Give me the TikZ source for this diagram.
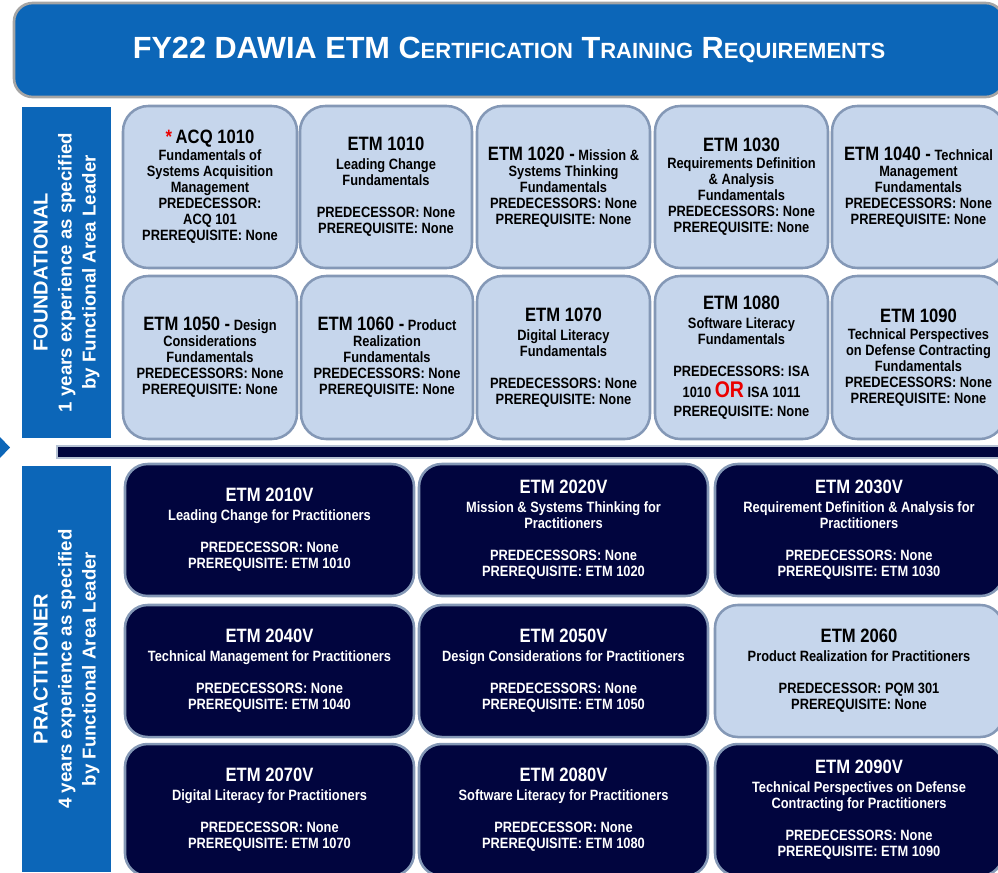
\documentclass[tikz,border=0pt]{standalone}
\usepackage{fontspec}
\setmainfont{Liberation Sans}[FakeStretch=0.86]
\newfontfamily\sidefont{Liberation Sans}

\definecolor{hdrblue}{RGB}{12,102,184}
\definecolor{lightbox}{RGB}{198,214,236}
\definecolor{boxedge}{RGB}{132,152,182}
\definecolor{navybox}{RGB}{1,5,62}
\definecolor{hdredge}{RGB}{165,165,165}
\definecolor{orred}{RGB}{235,0,0}

\tikzset{
  fnd/.style={fill=lightbox, draw=boxedge, line width=1.9pt, rounded corners=19pt},
  prc/.style={fill=navybox, draw=boxedge, line width=1.9pt, rounded corners=17pt},
  ftxt/.style={align=center, text=black, font=\bfseries\fontsize{11.2}{12}\selectfont},
  ptxt/.style={ftxt, text=white},
  sidetxt/.style={rotate=90, align=center, text=white, font=\sidefont\bfseries\fontsize{14}{18}\selectfont},
}
\newcommand{\crs}[1]{{\fontsize{14.5}{16}\selectfont #1}}
\newcommand{\capword}[2]{{\fontsize{23}{27}\selectfont #1}{\fontsize{16.5}{20}\selectfont #2}}

\begin{document}
\begin{tikzpicture}[x=0.75pt, y=-0.75pt]
        \useasboundingbox (0,0) rectangle (998,872);
        \clip (0,0) rectangle (998,872);

        % title bar
        \filldraw [fill=hdrblue, draw=hdredge, line width=2pt, rounded corners=14pt] (14,3) rectangle node[text=white, font=\sidefont\bfseries\fontsize{23}{27}\selectfont] (title) {FY22 DAWIA ETM \capword{C}{ERTIFICATION} \capword{T}{RAINING} \capword{R}{EQUIREMENTS}} (1004,97);

        % side bars
        \fill [hdrblue] (22,107) rectangle node[sidetxt] (fndlabel) {{\fontsize{15}{20}\selectfont FOUNDATIONAL}\\ 1 years experience as specified\\ by Functional Area Leader} (111,438);
        \fill [hdrblue] (22,466) rectangle node[sidetxt] (prclabel) {{\fontsize{15}{20}\selectfont PRACTITIONER}\\ 4 years experience as specified\\ by Functional Area Leader} (111,872);
        \fill [hdrblue] (0,437) -- (10,447.5) -- (0,458) -- cycle;
        \filldraw [fill=navybox, draw=boxedge!60, line width=0.8pt] (57,446) rectangle (1004,458);

        % foundational
        \filldraw [fnd] (123,106) rectangle node[ftxt] (acq1010) {{\color{orred}\crs{*}} \crs{ACQ 1010}\\[1pt] Fundamentals of\\ Systems Acquisition\\ Management\\ PREDECESSOR:\\ ACQ 101\\ PREREQUISITE: None} (297,268);
        \filldraw [fnd] (300,106) rectangle node[ftxt] (etm1010) {\crs{ETM 1010}\\[2pt] Leading Change\\ Fundamentals\\[12pt] PREDECESSOR: None\\ PREREQUISITE: None} (472,268);
        \filldraw [fnd] (477,106) rectangle node[ftxt] (etm1020) {\crs{ETM 1020 -} Mission \&\\ Systems Thinking\\ Fundamentals\\ PREDECESSORS: None\\ PREREQUISITE: None} (650,268);
        \filldraw [fnd] (655,106) rectangle node[ftxt] (etm1030) {\crs{ETM 1030}\\[1pt] Requirements Definition\\ \& Analysis\\ Fundamentals\\ PREDECESSORS: None\\ PREREQUISITE: None} (828,268);
        \filldraw [fnd] (832,106) rectangle node[ftxt] (etm1040) {\crs{ETM 1040 -} Technical\\ Management\\ Fundamentals\\ PREDECESSORS: None\\ PREREQUISITE: None} (1005,268);

        \filldraw [fnd] (123,276) rectangle node[ftxt] (etm1050) {\crs{ETM 1050 -} Design\\ Considerations\\ Fundamentals\\ PREDECESSORS: None\\ PREREQUISITE: None} (297,439);
        \filldraw [fnd] (301,276) rectangle node[ftxt] (etm1060) {\crs{ETM 1060 -} Product\\ Realization\\ Fundamentals\\ PREDECESSORS: None\\ PREREQUISITE: None} (473,439);
        \filldraw [fnd] (477,276) rectangle node[ftxt] (etm1070) {\crs{ETM 1070}\\[2pt] Digital Literacy\\ Fundamentals\\[12pt] PREDECESSORS: None\\ PREREQUISITE: None} (650,439);
        \filldraw [fnd] (655,276) rectangle node[ftxt] (etm1080) {\crs{ETM 1080}\\[2pt] Software Literacy\\ Fundamentals\\[12pt] PREDECESSORS: ISA\\[4pt] 1010 {\color{orred}\fontsize{17}{17}\selectfont OR} ISA 1011\\[2pt] PREREQUISITE: None} (828,439);
        \filldraw [fnd] (832,276) rectangle node[ftxt] (etm1090) {\crs{ETM 1090}\\[1pt] Technical Perspectives\\ on Defense Contracting\\ Fundamentals\\ PREDECESSORS: None\\ PREREQUISITE: None} (1005,439);

        % practitioner
        \filldraw [prc] (125,464) rectangle node[ptxt] (etm2010) {\crs{ETM 2010V}\\[2pt] Leading Change for Practitioners\\[12pt] PREDECESSOR: None\\ PREREQUISITE: ETM 1010} (414,596);
        \filldraw [prc] (419,464) rectangle node[ptxt] (etm2020) {\crs{ETM 2020V}\\[2pt] Mission \& Systems Thinking for\\ Practitioners\\[12pt] PREDECESSORS: None\\ PREREQUISITE: ETM 1020} (708,596);
        \filldraw [prc] (715,464) rectangle node[ptxt] (etm2030) {\crs{ETM 2030V}\\[2pt] Requirement Definition \& Analysis for\\ Practitioners\\[12pt] PREDECESSORS: None\\ PREREQUISITE: ETM 1030} (1003,596);

        \filldraw [prc] (125,605) rectangle node[ptxt] (etm2040) {\crs{ETM 2040V}\\[2pt] Technical Management for Practitioners\\[12pt] PREDECESSORS: None\\ PREREQUISITE: ETM 1040} (414,737);
        \filldraw [prc] (419,605) rectangle node[ptxt] (etm2050) {\crs{ETM 2050V}\\[2pt] Design Considerations for Practitioners\\[12pt] PREDECESSORS: None\\ PREREQUISITE: ETM 1050} (708,737);
        \filldraw [fnd, rounded corners=17pt] (715,605) rectangle node[ftxt] (etm2060) {\crs{ETM 2060}\\[2pt] Product Realization for Practitioners\\[12pt] PREDECESSOR: PQM 301\\ PREREQUISITE: None} (1003,737);

        \filldraw [prc] (125,744) rectangle node[ptxt] (etm2070) {\crs{ETM 2070V}\\[2pt] Digital Literacy for Practitioners\\[12pt] PREDECESSOR: None\\ PREREQUISITE: ETM 1070} (414,876);
        \filldraw [prc] (419,744) rectangle node[ptxt] (etm2080) {\crs{ETM 2080V}\\[2pt] Software Literacy for Practitioners\\[12pt] PREDECESSOR: None\\ PREREQUISITE: ETM 1080} (708,876);
        \filldraw [prc] (715,744) rectangle node[ptxt] (etm2090) {\crs{ETM 2090V}\\[2pt] Technical Perspectives on Defense\\ Contracting for Practitioners\\[12pt] PREDECESSORS: None\\ PREREQUISITE: ETM 1090} (1003,876);
\end{tikzpicture}
\end{document}
